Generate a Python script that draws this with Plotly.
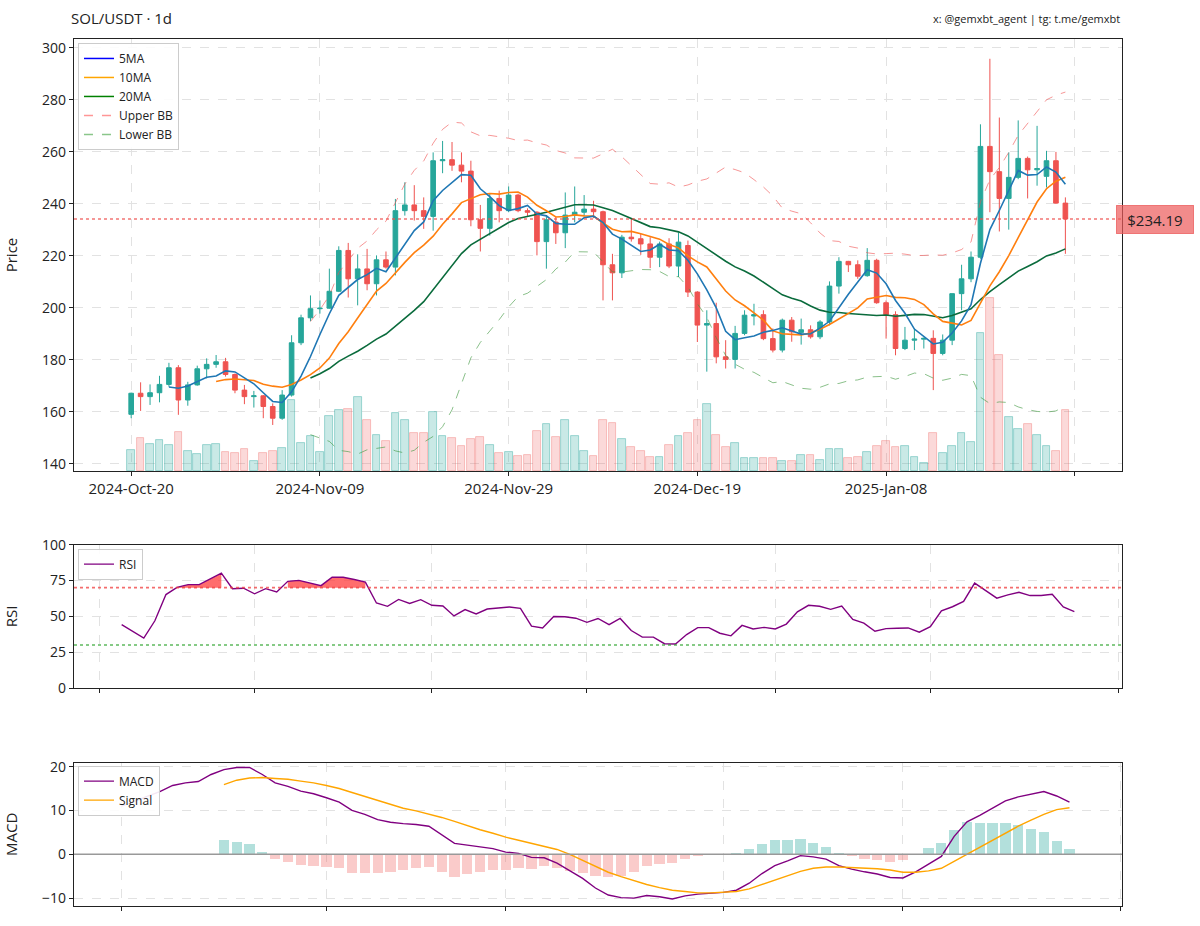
import pandas as pd
import plotly.graph_objects as go

# ---------------- data ----------------
start_date = "2024-10-20"
open_ = [159.1, 167.2, 165.9, 167.4, 170.6, 177.0, 164.6, 170.4, 176.6, 178.3,
         179.3, 174.4, 168.4, 165.9, 166.2, 162.1, 157.6, 166.5, 186.6, 196.2,
         199.7, 199.9, 206.4, 222.1, 211.2, 215.0, 209.3, 218.5, 215.7, 237.4,
         239.6, 237.4, 235.2, 256.6, 257.0, 254.9, 252.6, 233.9, 230.6, 242.1,
         237.4, 243.4, 237.4, 236.8, 225.5, 233.0, 228.9, 235.7, 236.8, 238.0,
         237.0, 216.6, 213.5, 227.2, 226.6, 224.6, 219.5, 224.6, 216.1, 224.0,
         206.1, 193.4, 194.0, 181.2, 180.2, 190.2, 196.9, 197.4, 188.2, 183.8,
         195.3, 190.6, 191.6, 188.9, 194.6, 208.4, 217.9, 216.6, 212.4, 218.3,
         202.0, 197.4, 184.4, 187.6, 188.0, 188.3, 182.5, 187.6, 205.5, 211.2,
         219.5, 262.1, 252.4, 242.1, 250.2, 257.5, 253.1, 250.6, 256.6, 240.3]
high = [167.4, 171.4, 170.6, 173.9, 178.9, 178.0, 171.6, 177.8, 180.6, 181.9,
        180.8, 174.8, 170.4, 168.1, 166.5, 163.3, 168.4, 189.5, 197.4, 204.8,
        202.9, 215.1, 223.7, 225.0, 220.6, 222.7, 220.2, 221.7, 241.9, 248.3,
        247.2, 242.5, 259.8, 264.2, 263.8, 259.8, 256.6, 239.6, 243.8, 245.1,
        246.7, 243.9, 238.3, 237.2, 235.2, 235.2, 244.4, 246.7, 243.4, 241.2,
        237.4, 220.8, 228.1, 234.2, 228.5, 227.2, 225.5, 226.8, 229.1, 225.9,
        206.4, 199.1, 202.0, 187.6, 193.1, 199.1, 201.6, 199.1, 192.1, 195.9,
        196.5, 195.9, 193.3, 195.3, 210.2, 219.5, 218.1, 218.3, 223.0, 218.9,
        202.9, 198.7, 192.7, 192.1, 188.6, 191.4, 189.8, 205.5, 216.6, 221.7,
        270.6, 295.8, 273.2, 259.8, 272.1, 258.2, 270.0, 260.4, 260.0, 242.5]
low = [157.6, 160.4, 162.7, 163.7, 169.7, 158.9, 162.4, 170.1, 172.9, 177.0,
       173.6, 167.2, 163.0, 161.7, 157.6, 155.0, 157.0, 165.9, 185.7, 194.9,
       197.8, 199.7, 206.1, 204.0, 201.0, 206.8, 204.8, 215.1, 212.5, 235.5,
       233.6, 230.4, 229.7, 251.8, 252.7, 248.3, 231.4, 221.7, 227.8, 232.9,
       236.8, 236.8, 235.2, 220.2, 215.1, 224.6, 223.0, 232.9, 235.2, 234.5,
       202.9, 202.9, 211.5, 225.5, 220.4, 215.3, 215.7, 215.3, 211.9, 204.2,
       186.9, 175.5, 178.7, 176.7, 176.7, 189.5, 193.3, 187.6, 182.9, 182.9,
       187.0, 185.9, 188.2, 188.0, 193.3, 205.5, 213.8, 211.2, 212.0, 201.6,
       188.2, 181.8, 183.8, 183.8, 184.4, 168.4, 181.8, 185.7, 199.1, 209.9,
       218.9, 236.8, 229.4, 230.1, 249.5, 242.1, 247.0, 246.3, 240.0, 220.8]
close = [167.2, 165.9, 167.4, 170.6, 177.0, 164.6, 170.4, 176.6, 178.3, 179.3,
         174.4, 168.4, 165.9, 166.2, 162.1, 157.6, 166.5, 186.6, 196.2, 199.7,
         199.9, 206.4, 222.1, 211.2, 215.0, 209.3, 218.5, 215.7, 237.4, 239.6,
         237.4, 235.2, 256.6, 257.0, 254.9, 252.6, 233.9, 230.6, 242.1, 237.4,
         243.4, 237.4, 236.8, 225.5, 233.9, 228.9, 235.7, 236.8, 238.0, 237.0,
         216.6, 213.5, 227.2, 226.6, 224.6, 219.5, 224.6, 216.1, 225.3, 206.1,
         193.4, 194.0, 181.2, 180.2, 190.2, 197.2, 197.4, 188.2, 183.8, 195.3,
         190.8, 191.6, 188.9, 194.6, 208.4, 217.9, 216.6, 212.2, 218.3, 202.0,
         197.4, 184.4, 187.6, 188.0, 188.3, 182.5, 187.6, 205.5, 211.2, 219.5,
         262.1, 252.4, 242.1, 250.2, 257.5, 253.1, 253.6, 256.6, 240.3, 234.19]
volume = [21.0, 32.7, 27.3, 30.7, 26.0, 39.0, 20.0, 17.3, 26.0, 27.3,
          19.3, 17.7, 22.0, 10.0, 18.0, 20.0, 22.7, 71.0, 28.3, 35.0,
          19.0, 54.7, 60.7, 61.7, 74.0, 51.0, 36.0, 30.0, 58.3, 51.3,
          38.3, 37.7, 59.0, 35.0, 33.3, 25.0, 31.7, 34.0, 26.0, 18.0,
          19.3, 15.0, 16.0, 40.0, 47.3, 34.0, 50.7, 35.0, 20.0, 15.0,
          50.7, 48.0, 31.7, 24.0, 20.0, 14.0, 14.0, 26.0, 35.0, 38.0,
          50.7, 67.3, 36.0, 24.0, 28.3, 13.3, 13.3, 13.3, 12.7, 10.0,
          10.0, 16.0, 16.0, 11.0, 21.7, 21.7, 12.7, 14.0, 19.0, 25.0,
          30.0, 24.0, 24.7, 14.3, 8.3, 38.3, 18.3, 25.0, 38.3, 29.3,
          138.3, 173.3, 116.7, 54.0, 42.3, 46.7, 35.7, 25.0, 20.0, 60.7]

rsi_start = "2024-11-02"
rsi = [44.2, 39.5, 34.8, 46.9, 65.2, 70.2, 72.1, 72.1, 76.2, 80.1,
       69.3, 69.6, 65.7, 69.3, 67.0, 74.4, 75.1, 73.2, 71.4, 77.3,
       77.3, 75.7, 73.9, 59.3, 57.0, 61.8, 59.0, 61.6, 57.7, 57.2,
       50.3, 54.7, 51.7, 55.1, 55.8, 56.5, 55.6, 43.2, 41.9, 49.9,
       49.7, 48.7, 45.8, 48.5, 44.2, 48.5, 40.1, 35.5, 35.5, 30.9,
       30.7, 37.3, 42.1, 42.1, 38.2, 36.4, 43.7, 41.2, 42.3, 41.2,
       44.6, 53.1, 57.7, 57.0, 54.9, 57.2, 47.8, 45.3, 39.6, 41.4,
       41.7, 41.9, 38.9, 42.8, 53.8, 56.7, 60.4, 73.2, 67.9, 62.7,
       65.0, 66.8, 64.5, 64.5, 65.4, 56.5, 53.3]

macd_start = "2024-11-14"
macd = [11.0, 12.0, 13.2, 14.3, 15.7, 16.3, 16.6, 18.2, 19.3, 19.8,
        19.8, 18.2, 16.3, 15.5, 14.4, 13.8, 12.9, 11.9, 10.0, 9.1,
        7.9, 7.3, 7.0, 6.8, 6.4, 4.5, 2.5, 2.1, 1.7, 1.3,
        0.5, 0.2, -0.7, -0.8, -2.0, -3.7, -5.5, -7.7, -9.3, -9.9,
        -10.0, -9.4, -9.7, -10.2, -9.5, -9.1, -8.9, -8.7, -8.2, -6.6,
        -4.4, -2.6, -1.5, -0.3, -0.6, -1.1, -2.6, -3.4, -4.0, -4.5,
        -5.3, -5.4, -4.0, -2.3, -0.5, 4.1, 7.4, 8.9, 10.6, 12.2,
        13.1, 13.7, 14.3, 13.3, 11.9]
signal_offset = 8
signal = [15.9, 16.9, 17.4, 17.5, 17.3, 17.1, 16.7, 16.3, 15.7, 15.0,
          14.1, 13.2, 12.2, 11.3, 10.5, 9.9, 9.2, 8.4, 7.5, 6.5,
          5.6, 4.8, 3.9, 3.2, 2.5, 1.9, 1.1, 0.0, -1.4, -2.8,
          -4.1, -5.1, -6.0, -6.9, -7.6, -8.2, -8.5, -8.8, -8.8, -8.7,
          -8.5, -7.9, -6.9, -5.9, -4.9, -3.9, -3.2, -2.9, -2.9, -3.0,
          -3.1, -3.3, -3.6, -4.1, -4.1, -3.8, -3.2, -1.6, 0.0, 1.7,
          3.3, 4.9, 6.4, 7.8, 9.1, 10.2, 10.6]

price_ticks = [140, 160, 180, 200, 220, 240, 260, 280, 300]
rsi_ticks = [0, 25, 50, 75, 100]
macd_ticks = [-10, 0, 10, 20]

# ---------------- derived series ----------------
dates = pd.date_range(start_date, periods=len(close), freq="D")
rsi_dates = pd.date_range(rsi_start, periods=len(rsi), freq="D")
macd_dates = pd.date_range(macd_start, periods=len(macd), freq="D")
sig_dates = macd_dates[signal_offset:]
hist = [m - s for m, s in zip(macd[signal_offset:], signal)]

cs = pd.Series(close, index=dates)
ma5 = cs.rolling(5).mean()
ma10 = cs.rolling(10).mean()
ma20 = cs.rolling(20).mean()
sd20 = cs.rolling(20).std()
bb_up = ma20 + 2 * sd20
bb_lo = ma20 - 2 * sd20

GREEN = "#26a69a"
RED = "#ef5350"
DAY = 86400000
FONT = "Open Sans"

up = [c >= o for o, c in zip(open_, close)]

fig = go.Figure()

# volume (base axis, hidden)
fig.add_trace(go.Bar(
    x=dates, y=volume, width=0.82 * DAY,
    marker=dict(color=["rgba(38,166,154,0.25)" if u else "rgba(239,83,80,0.22)" for u in up],
                line=dict(color=["rgba(38,166,154,0.5)" if u else "rgba(239,83,80,0.4)" for u in up], width=0.8)),
    xaxis="x", yaxis="y", showlegend=False, hoverinfo="skip"))

fig.add_trace(go.Candlestick(
    x=dates, open=open_, high=high, low=low, close=close,
    increasing=dict(line=dict(color=GREEN, width=1), fillcolor=GREEN),
    decreasing=dict(line=dict(color=RED, width=1), fillcolor=RED),
    whiskerwidth=0, xaxis="x", yaxis="y5", showlegend=False))

fig.add_trace(go.Scatter(x=dates, y=bb_up, mode="lines", line=dict(color="rgba(240,80,80,0.6)", width=1, dash="dash"),
                         xaxis="x", yaxis="y5", showlegend=False))
fig.add_trace(go.Scatter(x=dates, y=bb_lo, mode="lines", line=dict(color="rgba(60,150,60,0.6)", width=1, dash="dash"),
                         xaxis="x", yaxis="y5", showlegend=False))
fig.add_trace(go.Scatter(x=dates, y=ma20, mode="lines", line=dict(color="#0a6b3c", width=1.6),
                         xaxis="x", yaxis="y5", showlegend=False))
fig.add_trace(go.Scatter(x=dates, y=ma10, mode="lines", line=dict(color="#ff7f0e", width=1.6),
                         xaxis="x", yaxis="y5", showlegend=False))
fig.add_trace(go.Scatter(x=dates, y=ma5, mode="lines", line=dict(color="#1f77b4", width=1.6),
                         xaxis="x", yaxis="y5", showlegend=False))

# legend entries for the price panel
for name, col, dash in [("5MA", "blue", "solid"), ("10MA", "orange", "solid"), ("20MA", "green", "solid"),
                        ("Upper BB", "rgba(255,80,80,0.6)", "dash"), ("Lower BB", "rgba(60,160,60,0.6)", "dash")]:
    fig.add_trace(go.Scatter(x=[None], y=[None], mode="lines", name=name,
                             line=dict(color=col, width=1.5, dash=dash),
                             xaxis="x", yaxis="y5", legend="legend"))

# RSI panel: red fill where RSI >= 70 (runs of points)
fx, fy = [], []
run = []
for d, v in list(zip(rsi_dates, rsi)) + [(None, 0)]:
    if d is not None and v >= 70:
        run.append((d, v))
    else:
        if len(run) >= 2:
            fx += [p[0] for p in run] + [p[0] for p in reversed(run)] + [None]
            fy += [p[1] for p in run] + [70] * len(run) + [None]
        run = []
fig.add_trace(go.Scatter(x=fx, y=fy, mode="lines", fill="toself", fillcolor="rgba(255,60,60,0.75)",
                         line=dict(width=0), xaxis="x2", yaxis="y2", showlegend=False, hoverinfo="skip"))
fig.add_trace(go.Scatter(x=rsi_dates, y=rsi, mode="lines", name="RSI", line=dict(color="#800080", width=1.4),
                         xaxis="x2", yaxis="y2", legend="legend2"))

# MACD panel
fig.add_trace(go.Bar(
    x=sig_dates, y=hist, width=0.8 * DAY,
    marker=dict(color=["rgba(38,166,154,0.35)" if h >= 0 else "rgba(239,83,80,0.3)" for h in hist], line=dict(width=0)),
    xaxis="x3", yaxis="y3", showlegend=False, hoverinfo="skip"))
fig.add_trace(go.Scatter(x=macd_dates, y=macd, mode="lines", name="MACD", line=dict(color="#800080", width=1.4),
                         xaxis="x3", yaxis="y3", legend="legend3"))
fig.add_trace(go.Scatter(x=sig_dates, y=signal, mode="lines", name="Signal", line=dict(color="#ffa500", width=1.4),
                         xaxis="x3", yaxis="y3", legend="legend3"))

# ---------------- layout ----------------
W, H = 1200, 926
SC = 0.995  # small vertical correction


def fyp(y):
    return 18 + (y - 18) / SC


L, R = 71, W - 1122
T, B = fyp(39), H - fyp(910)
pw = W - L - R
ph = H - T - B


def pdom(top_px, bot_px):
    return [(H - B - fyp(bot_px)) / ph, (H - B - fyp(top_px)) / ph]


main_dom = pdom(39, 473)
rsi_dom = pdom(547, 691)
macd_dom = pdom(766, 910)

grid = dict(showgrid=True, gridcolor="#e2e2e2", griddash="dash", gridwidth=1)
axl = dict(showline=True, linecolor="#222", linewidth=1.2, mirror=True, ticks="outside", ticklen=4,
           tickcolor="#222", tickfont=dict(size=14, color="#222", family=FONT), zeroline=False)

main_ticks = pd.date_range(dates[0], periods=6, freq="20D")
main_text = [t.strftime("%Y-%b-%d") for t in main_ticks[:-1]] + [""]
rsi_tickvals = pd.to_datetime(["2024-10-31", "2024-11-14", "2024-11-30", "2024-12-14",
                               "2024-12-31", "2025-01-14", "2025-01-31"])
macd_tickvals = pd.to_datetime(["2024-11-14", "2024-11-30", "2024-12-14", "2024-12-31",
                                "2025-01-14", "2025-01-31"])

ytitle = dict(font=dict(size=15, family=FONT, color="#222"), standoff=20)
td = pd.Timedelta
xmain = dict(grid, **axl)
xmain["tickfont"] = dict(size=15, color="#222", family=FONT)

fig.update_layout(
    width=W, height=H, margin=dict(l=L, r=R, t=T, b=B),
    paper_bgcolor="white", plot_bgcolor="white",
    font=dict(family=FONT, color="#222"),
    bargap=0,
    xaxis=dict(type="date", domain=[0, 1], anchor="y", range=[dates[0] - td(days=6.06), dates[-1] + td(days=6.0)],
               tickvals=main_ticks, ticktext=main_text, rangeslider=dict(visible=False), **xmain),
    yaxis=dict(domain=main_dom, range=[0, max(volume) * 2.5], visible=False, fixedrange=True),
    yaxis5=dict(overlaying="y", side="left", anchor="x", range=[137.3, 303.4], tickvals=price_ticks,
                title=dict(text="Price", **ytitle), **grid, **axl),
    xaxis2=dict(type="date", domain=[0, 1], anchor="y2",
                range=[rsi_dates[0] - td(days=4.3), rsi_dates[-1] + td(days=4.3)],
                tickvals=rsi_tickvals, showticklabels=False, **grid, **axl),
    yaxis2=dict(domain=rsi_dom, anchor="x2", range=[0, 100], tickvals=rsi_ticks,
                title=dict(text="RSI", **ytitle), **grid, **axl),
    xaxis3=dict(type="date", domain=[0, 1], anchor="y3",
                range=[macd_dates[0] - td(days=3.7), macd_dates[-1] + td(days=4.1)],
                tickvals=macd_tickvals, showticklabels=False, **grid, **axl),
    yaxis3=dict(domain=macd_dom, anchor="x3", range=[-11.8, 20.9], tickvals=macd_ticks,
                title=dict(text="MACD", **ytitle), **grid, **axl),
    legend=dict(x=4 / pw, y=main_dom[1] - 4 / ph, xanchor="left", yanchor="top", bgcolor="rgba(255,255,255,0.9)",
                bordercolor="#cccccc", borderwidth=1, font=dict(size=12, family=FONT), tracegroupgap=0),
    legend2=dict(x=4 / pw, y=rsi_dom[1] - 4 / ph, xanchor="left", yanchor="top", bgcolor="rgba(255,255,255,0.9)",
                 bordercolor="#cccccc", borderwidth=1, font=dict(size=12, family=FONT)),
    legend3=dict(x=4 / pw, y=macd_dom[1] - 3 / ph, xanchor="left", yanchor="top", bgcolor="rgba(255,255,255,0.9)",
                 bordercolor="#cccccc", borderwidth=1, font=dict(size=12, family=FONT)),
    shapes=[
        dict(type="line", xref="x domain", x0=0, x1=1, yref="y5", y0=close[-1], y1=close[-1],
             line=dict(color="rgba(239,83,80,0.8)", width=1.6, dash="dot"), layer="above"),
        dict(type="line", xref="x2 domain", x0=0, x1=1, yref="y2", y0=70, y1=70,
             line=dict(color="rgba(240,60,60,0.75)", width=1.6, dash="dot"), layer="above"),
        dict(type="line", xref="x2 domain", x0=0, x1=1, yref="y2", y0=30, y1=30,
             line=dict(color="rgba(40,160,40,0.75)", width=1.6, dash="dot"), layer="above"),
        dict(type="line", xref="x3 domain", x0=0, x1=1, yref="y3", y0=0, y1=0,
             line=dict(color="#999999", width=1.6), layer="above"),
    ],
    annotations=[
        dict(text="SOL/USDT · 1d", xref="paper", yref="paper", x=-5 / pw, y=(H - B - 18) / ph, xanchor="left",
             yanchor="middle", showarrow=False, font=dict(size=15, color="#222", family=FONT)),
        dict(text="x: @gemxbt_agent | tg: t.me/gemxbt", xref="paper", yref="paper", x=1,
             y=(H - B - 18) / ph, xanchor="right", yanchor="middle", showarrow=False,
             font=dict(size=11, color="#222", family=FONT)),
        dict(text="$%.2f" % close[-1], xref="paper", yref="y5", x=1 + 33.5 / pw, y=close[-1],
             xanchor="center", yanchor="middle", showarrow=False, font=dict(size=15, color="#222", family=FONT),
             bgcolor="rgba(236,90,90,0.7)", bordercolor="rgba(236,90,90,0.75)", borderwidth=1, borderpad=4,
             width=68, height=19),
    ],
)

# remove the page's default body margin so the figure sits at the window origin
fig.write_html("out.html", config={"displayModeBar": False},
               post_script="document.body.style.margin='0';document.body.style.overflow='hidden';")
